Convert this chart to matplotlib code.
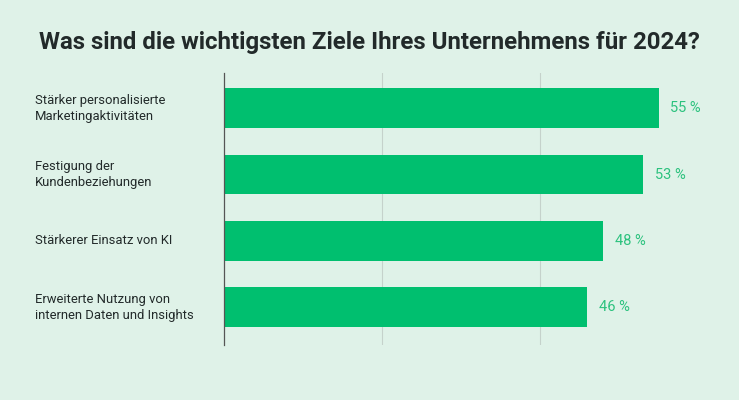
import matplotlib
matplotlib.use("Agg")
import matplotlib.pyplot as plt
from matplotlib import font_manager

# ---------------- Daten ----------------
categories = [
    "Stärker personalisierte\nMarketingaktivitäten",
    "Festigung der\nKundenbeziehungen",
    "Stärkerer Einsatz von KI",
    "Erweiterte Nutzung von\ninternen Daten und Insights",
]
values = [55, 53, 48, 46]
value_labels = ["55 %", "53 %", "48 %", "46 %"]
title = "Was sind die wichtigsten Ziele Ihres Unternehmens für 2024?"

BG = "#dff2e8"
GREEN = "#00bf6f"
TXT_GREEN = "#2cc27e"
DARK = "#222a2a"

names = {f.name for f in font_manager.fontManager.ttflist}
title_font = "Liberation Sans Narrow" if "Liberation Sans Narrow" in names else "Roboto"

fig = plt.figure(figsize=(7.39, 4.0), dpi=100, facecolor=BG)
ax = fig.add_axes([224/739, 1 - 345/400, (698-224)/739, (345-73)/400])
ax.set_facecolor(BG)

ys = list(range(len(categories)))
ax.barh(ys, values, height=0.6, color=GREEN, zorder=3)
ax.set_ylim(len(categories) - 0.43, -0.53)
ax.set_xlim(0, 60)

for y, v, lab in zip(ys, values, value_labels):
    ax.text(v + 1.5, y, lab, va="center", ha="left", fontsize=10.5,
            color=TXT_GREEN, family="Roboto")
for y, c in zip(ys, categories):
    ax.annotate(c, xy=(0, y), xycoords=("axes fraction", "data"),
                xytext=(35/739, 0), textcoords=("figure fraction", "offset points"),
                va="center", ha="left", fontsize=9.4, color=DARK,
                family="Roboto", linespacing=1.3)

ax.set_xticks([20, 40])
ax.xaxis.grid(True, color="#c5d2cb", linewidth=0.8, zorder=0)
ax.tick_params(left=False, bottom=False, labelleft=False, labelbottom=False)
for s in ["top", "right", "bottom"]:
    ax.spines[s].set_visible(False)
ax.spines["left"].set_color("#555555")
ax.spines["left"].set_linewidth(0.9)
ax.spines["left"].set_zorder(4)

fig.text(0.5, 1 - 43/400, title, ha="center", va="center", fontsize=17.3,
         fontweight="bold", color=DARK, family=title_font)

fig.savefig("out.png", dpi=100, facecolor=BG)
